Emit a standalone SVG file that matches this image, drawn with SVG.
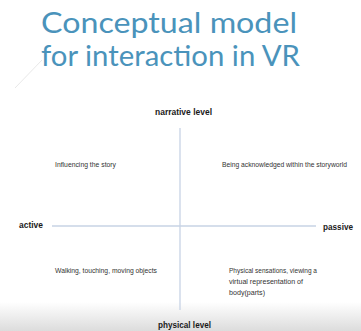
<svg xmlns="http://www.w3.org/2000/svg" width="361" height="331" viewBox="0 0 361 331">
<defs>
<linearGradient id="band" x1="0" y1="0" x2="0" y2="1">
<stop offset="0" stop-color="#ffffff"/>
<stop offset="1" stop-color="#dcdcdc"/>
</linearGradient>
<style>
.title{font-family:"Lato","Open Sans",sans-serif;font-weight:400;font-size:29px;fill:#4a93bb}
.lbl{font-family:"Liberation Sans",Arial,sans-serif;font-weight:bold;font-size:8.5px;fill:#1a1a1a}
.txt{font-family:"Liberation Sans",Arial,sans-serif;font-size:7px;fill:#333333}
.axis{stroke:#c7d3e5;stroke-width:1.3;fill:none}
</style>
</defs>
<rect width="361" height="331" fill="#ffffff"/>
<rect x="0" y="302" width="361" height="29" fill="url(#band)"/>
<line x1="15" y1="88" x2="42" y2="60" stroke="#e2e2e2" stroke-width="0.8"/>
<g id="title">
<text class="title" x="41" y="33" textLength="256" lengthAdjust="spacingAndGlyphs">Conceptual model</text>
<text class="title" x="41" y="66" textLength="259" lengthAdjust="spacingAndGlyphs">for interaction in VR</text>
</g>
<g id="connectors">
<line class="axis" x1="180" y1="128" x2="180" y2="310"/>
<line class="axis" x1="52" y1="226" x2="316" y2="226"/>
</g>
<g id="narrative"><text class="lbl" x="155" y="115" textLength="57" lengthAdjust="spacingAndGlyphs">narrative level</text></g>
<g id="physical"><text class="lbl" x="158" y="328" textLength="53" lengthAdjust="spacingAndGlyphs">physical level</text></g>
<g id="active"><text class="lbl" x="19" y="228" textLength="24" lengthAdjust="spacingAndGlyphs">active</text></g>
<g id="passive"><text class="lbl" x="323" y="230" textLength="30" lengthAdjust="spacingAndGlyphs">passive</text></g>
<g id="q1"><text class="txt" x="55" y="167" textLength="61" lengthAdjust="spacingAndGlyphs">Influencing the story</text></g>
<g id="q2"><text class="txt" x="222" y="167" textLength="125" lengthAdjust="spacingAndGlyphs">Being acknowledged within the storyworld</text></g>
<g id="q3"><text class="txt" x="55" y="273" textLength="102" lengthAdjust="spacingAndGlyphs">Walking, touching, moving objects</text></g>
<g id="q4">
<text class="txt" x="229" y="273" textLength="88" lengthAdjust="spacingAndGlyphs">Physical sensations, viewing a</text>
<text class="txt" x="229" y="284" textLength="74" lengthAdjust="spacingAndGlyphs">virtual representation of</text>
<text class="txt" x="229" y="295" textLength="36" lengthAdjust="spacingAndGlyphs">body(parts)</text>
</g>
</svg>
